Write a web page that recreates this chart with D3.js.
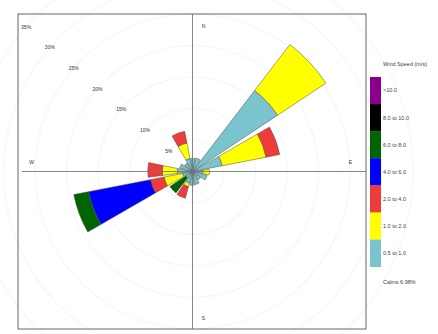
<!DOCTYPE html>
<html>
<head>
<meta charset="utf-8">
<script src="https://cdn.jsdelivr.net/npm/d3@7"></script>
<style>
  html, body { margin: 0; padding: 0; background: #fff; }
  svg { display: block; font-family: "Liberation Sans", Arial, sans-serif; }
</style>
</head>
<body>
<script>
// ---- data ----
const directions = ["N","NNE","NE","ENE","E","ESE","SE","SSE","S","SSW","SW","WSW","W","WNW","NW","NNW"];
const speedBins = ["0.5 to 1.0","1.0 to 2.0","2.0 to 4.0","4.0 to 6.0","6.0 to 8.0","8.0 to 10.0",">10.0"];
const speedColors = ["#7ac5cd","#ffff00","#ee3b3b","#0000ff","#006400","#000000","#8b008b"];
// frequency (%) of each speed bin per direction
const s0510 = [2.1, 2.2, 16.2, 4.8, 1.6, 2.4, 1.6, 2.1, 2.2, 1.9, 1.3, 1.6, 2.4, 2.1, 1.6, 2.1];
const s1020 = [0, 0, 9.2, 7.1, 1.1, 0, 0, 0, 0, 0.6, 0, 3.0, 2.4, 0, 0, 2.5];
const s2040 = [0, 0, 0, 2.2, 0, 0, 0, 0, 0, 1.9, 0, 2.2, 2.3, 0, 0, 1.9];
const s4060 = [0, 0, 0, 0, 0, 0, 0, 0, 0, 0, 0, 10.0, 0, 0, 0, 0];
const s6080 = [0, 0, 0, 0, 0, 0, 0, 0, 0, 0, 3.0, 2.4, 0, 0, 0, 0];
const s8010 = [0, 0, 0, 0, 0, 0, 0, 0, 0, 0, 0, 0, 0, 0, 0, 0];
const s10up = [0, 0, 0, 0, 0, 0, 0, 0, 0, 0, 0, 0, 0, 0, 0, 0];
const pctTicks = [5, 10, 15, 20, 25, 30, 35];
const compass = ["N", "E", "S", "W"];
const legendTitle = "Wind Speed (m/s)";
const calmsText = "Calms 6.98%";

const series = [s0510, s1020, s2040, s4060, s6080, s8010, s10up];

// ---- layout ----
const W = 438, H = 334;
const cx = 192.5, cy = 171.5;
const panel = {x0: 18, y0: 14, x1: 366, y1: 329};

const svg = d3.select("body").append("svg").attr("width", W).attr("height", H);
svg.append("rect").attr("width", W).attr("height", H).attr("fill", "#fff");

const r = d3.scaleLinear().domain([0, 35]).range([0, 220.5]);
const dirAngle = d3.scalePoint().domain(directions.concat(["N360"])).range([0, 360]);
const halfW = 9.5, rot = 2;

const g = svg.append("g").attr("transform", `translate(${cx},${cy})`);

// faint circles
g.selectAll("circle.grid").data(pctTicks).join("circle")
  .attr("class","grid").attr("r", d => r(d))
  .attr("fill","none").attr("stroke","#f6f6f6").attr("stroke-width",1.2);

// stacked petals
const arc = d3.arc();
const stacked = directions.map((d, i) => {
  let acc = 0;
  return series.map((s, k) => {
    const v = s[i];
    const seg = {dir: d, k, inner: acc, outer: acc + v};
    acc += v;
    return seg;
  }).filter(seg => seg.outer > seg.inner);
}).flat();

g.selectAll("path.petal").data(stacked).join("path")
  .attr("class","petal")
  .attr("d", d => {
    const a = dirAngle(d.dir) + rot;
    return arc({innerRadius: r(d.inner), outerRadius: r(d.outer),
      startAngle: (a - halfW) * Math.PI / 180, endAngle: (a + halfW) * Math.PI / 180});
  })
  .attr("fill", d => speedColors[d.k])
  .attr("stroke","#4a4a4a").attr("stroke-width",0.5);

// axis lines (drawn over petals)
svg.append("line").attr("x1", cx).attr("x2", cx).attr("y1", panel.y0).attr("y2", panel.y1)
  .attr("stroke","#777").attr("stroke-width",0.9);
svg.append("line").attr("x1", panel.x0 + 4).attr("x2", panel.x1).attr("y1", cy).attr("y2", cy)
  .attr("stroke","#777").attr("stroke-width",0.9);

// panel border
svg.append("rect").attr("x", panel.x0).attr("y", panel.y0)
  .attr("width", panel.x1 - panel.x0).attr("height", panel.y1 - panel.y0)
  .attr("fill","none").attr("stroke","#666").attr("stroke-width",1);

// percentage labels along ~311 degrees
const labAng = 311 * Math.PI / 180;
g.selectAll("text.pct").data(pctTicks).join("text")
  .attr("class","pct")
  .attr("x", d => r(d) * Math.sin(labAng))
  .attr("y", d => -r(d) * Math.cos(labAng))
  .attr("text-anchor","middle").attr("dy","0.35em")
  .attr("font-size", 5).attr("fill","#333")
  .text(d => d + "%");

// compass labels
const compPos = {N: [cx + 11, cy - 145], E: [cx + 158, cy - 9], S: [cx + 11, cy + 147], W: [cx - 161, cy - 9]};
svg.selectAll("text.comp").data(compass).join("text")
  .attr("class","comp")
  .attr("x", d => compPos[d][0])
  .attr("y", d => compPos[d][1])
  .attr("text-anchor","middle").attr("dy","0.35em")
  .attr("font-size", 5).attr("fill","#333")
  .text(d => d);

// legend
const lx = 370, lw = 11, ly0 = 77, segH = 27.1;
const legData = speedBins.map((b, k) => ({b, k})).reverse();
const leg = svg.append("g");
leg.selectAll("rect").data(legData).join("rect")
  .attr("x", lx).attr("y", (d, i) => ly0 + i * segH)
  .attr("width", lw).attr("height", segH + 0.3)
  .attr("fill", d => speedColors[d.k]);
leg.selectAll("text.lab").data(legData).join("text")
  .attr("class","lab")
  .attr("x", 383).attr("y", (d, i) => ly0 + i * segH + segH / 2)
  .attr("dy","0.35em").attr("font-size", 5.5).attr("fill","#444")
  .text(d => d.b);
svg.append("text").attr("x", 383).attr("y", 64).attr("dy","0.35em")
  .attr("font-size", 5.5).attr("fill","#444").text(legendTitle);
svg.append("text").attr("x", 383).attr("y", 282).attr("dy","0.35em")
  .attr("font-size", 5.5).attr("fill","#444").text(calmsText);
</script>
</body>
</html>
